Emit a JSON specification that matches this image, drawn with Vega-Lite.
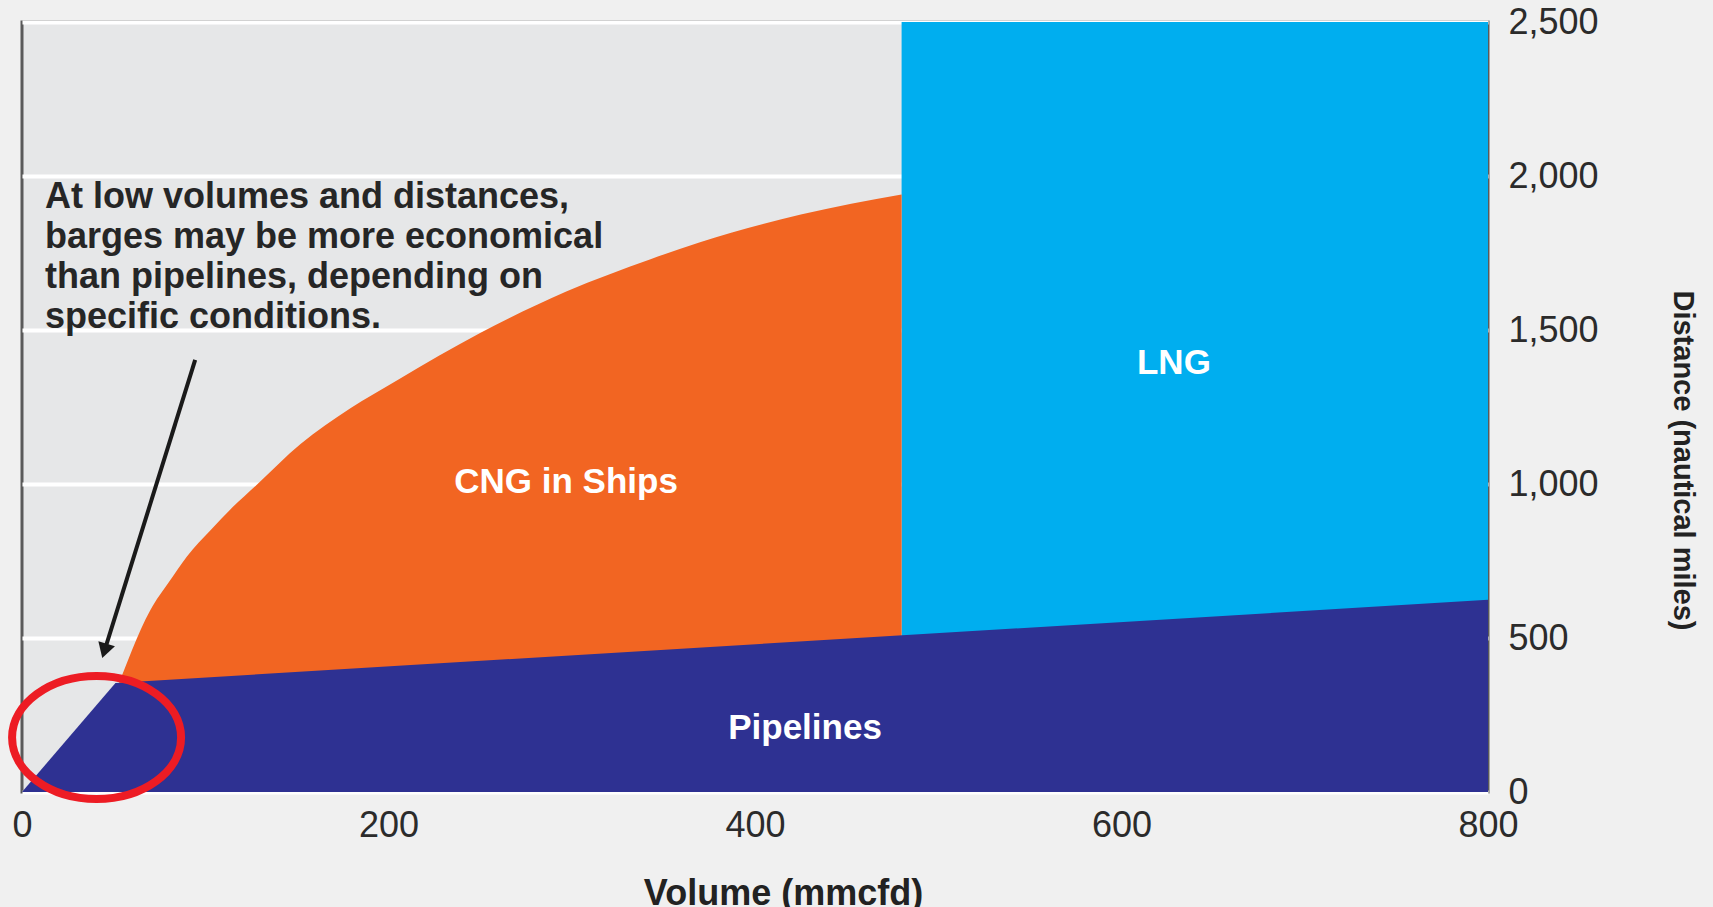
{
  "$schema": "https://vega.github.io/schema/vega-lite/v6.json",
  "width": 1466,
  "height": 770,
  "autosize": {"type": "none"},
  "padding": {"left": 22, "top": 22, "right": 225, "bottom": 115},
  "background": "#f0f0f0",
  "config": {
    "view": {"fill": "#e6e7e8", "stroke": "#5a5a5a", "strokeWidth": 3},
    "font": "Liberation Sans"
  },
  "datasets": {
    "lng": [
      {"volume": 480, "distance": 2500},
      {"volume": 800, "distance": 2500}
    ],
    "cng": [
      {"volume": 53, "distance": 355},
      {"volume": 56, "distance": 400},
      {"volume": 60, "distance": 460},
      {"volume": 65, "distance": 530},
      {"volume": 70, "distance": 590},
      {"volume": 80, "distance": 680},
      {"volume": 90, "distance": 765},
      {"volume": 103, "distance": 851},
      {"volume": 115, "distance": 925},
      {"volume": 128, "distance": 997},
      {"volume": 152, "distance": 1130},
      {"volume": 179, "distance": 1245},
      {"volume": 205, "distance": 1338},
      {"volume": 250, "distance": 1490},
      {"volume": 297, "distance": 1625},
      {"volume": 343, "distance": 1730},
      {"volume": 370, "distance": 1785},
      {"volume": 425, "distance": 1875},
      {"volume": 480, "distance": 1940}
    ],
    "pipelines": [
      {"volume": 0, "distance": 0},
      {"volume": 51, "distance": 354},
      {"volume": 800, "distance": 624}
    ],
    "labels": [
      {"volume": 296.9, "distance": 1006, "label": "CNG in Ships"},
      {"volume": 628.6, "distance": 1393, "label": "LNG"},
      {"volume": 427.3, "distance": 208, "label": "Pipelines"}
    ],
    "note": [
      {"volume": 12.5, "distance": 1896, "label": "At low volumes and distances,\nbarges may be more economical\nthan pipelines, depending on\nspecific conditions."}
    ],
    "arrow": [
      {"volume": 94.5, "distance": 1403},
      {"volume": 45.0, "distance": 458}
    ],
    "arrowhead": [
      {"volume": 45.0, "distance": 458}
    ],
    "circle": [
      {"volume": 40.7, "distance": 177}
    ]
  },
  "encoding": {
    "x": {
      "field": "volume",
      "type": "quantitative",
      "scale": {"domain": [0, 800], "nice": false, "zero": true},
      "axis": {
        "title": "Volume (mmcfd)",
        "values": [0, 200, 400, 600, 800],
        "grid": false,
        "domain": false,
        "ticks": false,
        "tickSize": 0,
        "labelFlush": false,
        "labelFont": "Liberation Sans",
        "labelFontSize": 36,
        "labelColor": "#2b2b2b",
        "labelPadding": 16,
        "titleFont": "Liberation Sans",
        "titleFontSize": 36,
        "titleFontWeight": "bold",
        "titleColor": "#222222",
        "titleX": 761,
        "titleY": 112,
        "titleAlign": "center",
        "titleBaseline": "alphabetic"
      }
    },
    "y": {
      "field": "distance",
      "type": "quantitative",
      "stack": null,
      "scale": {"domain": [0, 2500], "nice": false, "zero": true},
      "axis": {
        "orient": "right",
        "title": "Distance (nautical miles)",
        "values": [0, 500, 1000, 1500, 2000, 2500],
        "format": ",d",
        "grid": true,
        "gridColor": "#ffffff",
        "gridWidth": 4,
        "gridOpacity": 1,
        "domain": false,
        "ticks": false,
        "tickSize": 0,
        "labelFlush": false,
        "labelFont": "Liberation Sans",
        "labelFontSize": 36,
        "labelColor": "#2b2b2b",
        "labelPadding": 20,
        "labelAlign": "left",
        "labelBaseline": "middle",
        "titleFont": "Liberation Sans",
        "titleFontSize": 29,
        "titleFontWeight": "bold",
        "titleColor": "#222222",
        "titleAngle": 90,
        "titleX": 194,
        "titleY": 438,
        "titleAlign": "center",
        "titleBaseline": "middle"
      }
    }
  },
  "layer": [
    {"data": {"name": "lng"}, "mark": {"type": "area", "color": "#00aeef", "opacity": 1}},
    {"data": {"name": "cng"}, "mark": {"type": "area", "color": "#f26522", "opacity": 1, "interpolate": "monotone"}},
    {"data": {"name": "pipelines"}, "mark": {"type": "area", "color": "#2e3192", "opacity": 1}},
    {
      "data": {"name": "labels"},
      "mark": {"type": "text", "font": "Liberation Sans", "fontSize": 35, "fontWeight": "bold", "color": "#ffffff", "align": "center", "baseline": "middle"},
      "encoding": {"text": {"field": "label", "type": "nominal"}}
    },
    {
      "data": {"name": "note"},
      "mark": {"type": "text", "font": "Liberation Sans", "fontSize": 36, "fontWeight": "bold", "color": "#262626", "align": "left", "baseline": "alphabetic", "lineHeight": 40, "lineBreak": "\n"},
      "encoding": {"text": {"field": "label", "type": "nominal"}}
    },
    {
      "data": {"name": "arrow"},
      "mark": {"type": "line", "color": "#1a1a1a", "strokeWidth": 4},
      "encoding": {"order": {"field": "distance", "type": "quantitative", "sort": "descending"}}
    },
    {
      "data": {"name": "arrowhead"},
      "mark": {"type": "point", "shape": "triangle-down", "angle": 17, "size": 300, "filled": true, "color": "#1a1a1a", "opacity": 1}
    },
    {
      "data": {"name": "circle"},
      "mark": {
        "type": "point",
        "shape": "M-1,0C-1,-0.402,-0.5523,-0.728,0,-0.728C0.5523,-0.728,1,-0.402,1,0C1,0.402,0.5523,0.728,0,0.728C-0.5523,0.728,-1,0.402,-1,0Z",
        "size": 28561,
        "filled": false,
        "stroke": "#ed1c24",
        "strokeWidth": 8,
        "opacity": 1
      }
    }
  ]
}
